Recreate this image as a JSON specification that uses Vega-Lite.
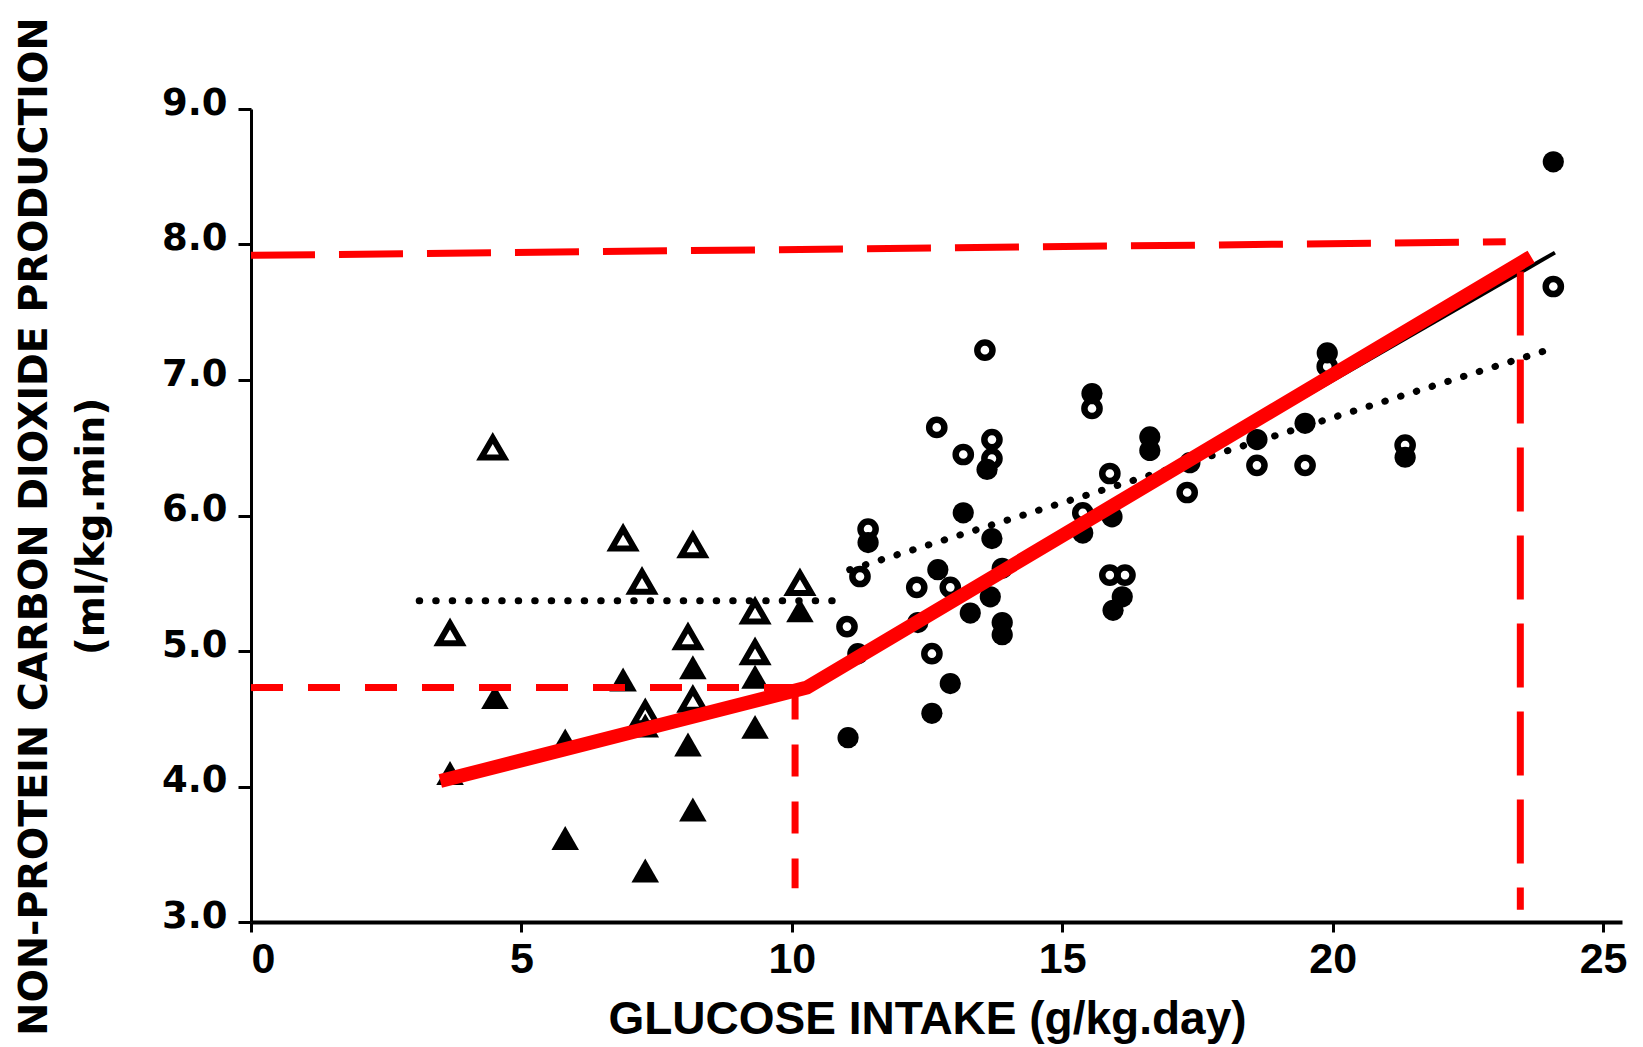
{
  "$schema": "https://vega.github.io/schema/vega-lite/v6.json",
  "autosize": "none",
  "width": 1371,
  "height": 813,
  "padding": {"left": 251, "top": 109, "right": 21, "bottom": 125},
  "background": "white",
  "config": {"view": {"stroke": null}},
  "datasets": {
    "pts": [
      {"x": 3.68, "y": 5.13, "g": "tri_open"},
      {"x": 4.47, "y": 6.50, "g": "tri_open"},
      {"x": 6.88, "y": 5.83, "g": "tri_open"},
      {"x": 7.23, "y": 5.51, "g": "tri_open"},
      {"x": 8.17, "y": 5.78, "g": "tri_open"},
      {"x": 8.08, "y": 5.10, "g": "tri_open"},
      {"x": 8.17, "y": 4.64, "g": "tri_open"},
      {"x": 7.29, "y": 4.54, "g": "tri_open"},
      {"x": 9.32, "y": 5.29, "g": "tri_open"},
      {"x": 9.32, "y": 4.99, "g": "tri_open"},
      {"x": 10.15, "y": 5.50, "g": "tri_open"},
      {"x": 3.68, "y": 4.10, "g": "tri_filled"},
      {"x": 4.51, "y": 4.66, "g": "tri_filled"},
      {"x": 5.81, "y": 4.34, "g": "tri_filled"},
      {"x": 5.81, "y": 3.62, "g": "tri_filled"},
      {"x": 6.88, "y": 4.79, "g": "tri_filled"},
      {"x": 7.29, "y": 3.38, "g": "tri_filled"},
      {"x": 7.29, "y": 4.45, "g": "tri_filled"},
      {"x": 8.17, "y": 4.88, "g": "tri_filled"},
      {"x": 8.08, "y": 4.31, "g": "tri_filled"},
      {"x": 8.17, "y": 3.83, "g": "tri_filled"},
      {"x": 9.32, "y": 4.81, "g": "tri_filled"},
      {"x": 9.32, "y": 4.44, "g": "tri_filled"},
      {"x": 10.15, "y": 5.30, "g": "tri_filled"},
      {"x": 11.02, "y": 5.18, "g": "circ_open"},
      {"x": 11.26, "y": 5.55, "g": "circ_open"},
      {"x": 11.41, "y": 5.90, "g": "circ_open"},
      {"x": 12.31, "y": 5.47, "g": "circ_open"},
      {"x": 12.59, "y": 4.98, "g": "circ_open"},
      {"x": 12.68, "y": 6.65, "g": "circ_open"},
      {"x": 12.93, "y": 5.47, "g": "circ_open"},
      {"x": 13.17, "y": 6.45, "g": "circ_open"},
      {"x": 13.57, "y": 7.22, "g": "circ_open"},
      {"x": 13.70, "y": 6.56, "g": "circ_open"},
      {"x": 13.70, "y": 6.42, "g": "circ_open"},
      {"x": 15.38, "y": 6.02, "g": "circ_open"},
      {"x": 15.55, "y": 6.79, "g": "circ_open"},
      {"x": 15.88, "y": 6.31, "g": "circ_open"},
      {"x": 15.88, "y": 5.56, "g": "circ_open"},
      {"x": 16.16, "y": 5.56, "g": "circ_open"},
      {"x": 17.31, "y": 6.17, "g": "circ_open"},
      {"x": 18.60, "y": 6.37, "g": "circ_open"},
      {"x": 19.49, "y": 6.37, "g": "circ_open"},
      {"x": 19.90, "y": 7.10, "g": "circ_open"},
      {"x": 21.34, "y": 6.52, "g": "circ_open"},
      {"x": 24.08, "y": 7.69, "g": "circ_open"},
      {"x": 11.04, "y": 4.36, "g": "circ_filled"},
      {"x": 11.22, "y": 4.98, "g": "circ_filled"},
      {"x": 11.41, "y": 5.80, "g": "circ_filled"},
      {"x": 12.33, "y": 5.21, "g": "circ_filled"},
      {"x": 12.59, "y": 4.54, "g": "circ_filled"},
      {"x": 12.70, "y": 5.60, "g": "circ_filled"},
      {"x": 12.93, "y": 4.76, "g": "circ_filled"},
      {"x": 13.17, "y": 6.02, "g": "circ_filled"},
      {"x": 13.30, "y": 5.28, "g": "circ_filled"},
      {"x": 13.61, "y": 6.34, "g": "circ_filled"},
      {"x": 13.67, "y": 5.40, "g": "circ_filled"},
      {"x": 13.70, "y": 5.83, "g": "circ_filled"},
      {"x": 13.89, "y": 5.61, "g": "circ_filled"},
      {"x": 13.89, "y": 5.21, "g": "circ_filled"},
      {"x": 13.89, "y": 5.12, "g": "circ_filled"},
      {"x": 15.38, "y": 5.87, "g": "circ_filled"},
      {"x": 15.55, "y": 6.90, "g": "circ_filled"},
      {"x": 15.92, "y": 5.99, "g": "circ_filled"},
      {"x": 15.94, "y": 5.30, "g": "circ_filled"},
      {"x": 16.11, "y": 5.40, "g": "circ_filled"},
      {"x": 16.62, "y": 6.58, "g": "circ_filled"},
      {"x": 16.62, "y": 6.48, "g": "circ_filled"},
      {"x": 17.36, "y": 6.39, "g": "circ_filled"},
      {"x": 18.60, "y": 6.56, "g": "circ_filled"},
      {"x": 19.49, "y": 6.68, "g": "circ_filled"},
      {"x": 19.90, "y": 7.20, "g": "circ_filled"},
      {"x": 21.34, "y": 6.43, "g": "circ_filled"},
      {"x": 24.08, "y": 8.61, "g": "circ_filled"}
    ],
    "lines": [
      {"x": 3.50, "y": 4.04, "id": "red"},
      {"x": 10.28, "y": 4.73, "id": "red"},
      {"x": 23.67, "y": 7.91, "id": "red"},
      {"x": 3.11, "y": 5.37, "id": "dotTri"},
      {"x": 10.76, "y": 5.37, "id": "dotTri"},
      {"x": 11.07, "y": 5.60, "id": "dotCirc"},
      {"x": 24.04, "y": 7.23, "id": "dotCirc"},
      {"x": 14.0, "y": 5.62, "id": "blackReg"},
      {"x": 24.11, "y": 7.94, "id": "blackReg"},
      {"x": 0, "y": 7.92, "id": "dashH1"},
      {"x": 23.2, "y": 8.02, "id": "dashH1"},
      {"x": 23.47, "y": 7.80, "id": "dashV1"},
      {"x": 23.47, "y": 3.09, "id": "dashV1"},
      {"x": 0, "y": 4.73, "id": "dashH2"},
      {"x": 10.19, "y": 4.73, "id": "dashH2"},
      {"x": 10.06, "y": 4.73, "id": "dashV2"},
      {"x": 10.06, "y": 3.25, "id": "dashV2"}
    ]
  },
  "encoding": {
    "x": {
      "field": "x", "type": "quantitative",
      "scale": {"domain": [0, 25.35], "nice": false, "zero": false},
      "axis": {
        "title": "GLUCOSE INTAKE (g/kg.day)",
        "values": [0, 5, 10, 15, 20, 25],
        "format": "d",
        "grid": false,
        "domainColor": "black", "domainWidth": 4,
        "tickColor": "black", "tickWidth": 3, "tickSize": 10,
        "labelFont": "Liberation Sans", "labelFontWeight": "bold", "labelFontSize": 43, "labelColor": "black",
        "labelPadding": 6,
        "titleFont": "Liberation Sans", "titleFontWeight": "bold", "titleFontSize": 46, "titleColor": "black",
        "titlePadding": 16,
        "titleX": 676
      }
    },
    "y": {
      "field": "y", "type": "quantitative",
      "scale": {"domain": [3, 9], "nice": false, "zero": false},
      "axis": {
        "title": ["NON-PROTEIN CARBON DIOXIDE PRODUCTION", "\u2003\u2003(ml/kg.min)"],
        "values": [3, 4, 5, 6, 7, 8, 9],
        "format": ".1f",
        "grid": false,
        "domainColor": "black", "domainWidth": 3,
        "tickColor": "black", "tickWidth": 3, "tickSize": 13,
        "labelFont": "DejaVu Sans", "labelFontWeight": "bold", "labelFontSize": 37, "labelColor": "black",
        "labelPadding": 11, "labelOffset": -6,
        "titleFont": "DejaVu Sans", "titleFontWeight": "bold", "titleFontSize": 39.5, "titleColor": "black",
        "titleAngle": -90, "titleBaseline": "top", "titleAlign": "center",
        "titleX": -236, "titleY": 417, "titleLineHeight": 57
      }
    }
  },
  "layer": [
    {
      "data": {"name": "lines"},
      "transform": [{"filter": "datum.id === 'blackReg'"}],
      "mark": {"type": "line", "color": "black", "strokeWidth": 4},
      "encoding": {}
    },
    {
      "data": {"name": "lines"},
      "transform": [{"filter": "datum.id === 'dotTri' || datum.id === 'dotCirc'"}],
      "mark": {"type": "line", "color": "black", "strokeWidth": 7, "strokeCap": "round", "strokeDash": [0.5, 16]},
      "encoding": {"detail": {"field": "id"}}
    },
    {
      "data": {"name": "pts"},
      "transform": [{"filter": "datum.g === 'tri_filled'"}],
      "mark": {"type": "point", "shape": "triangle-up", "filled": true, "color": "black", "opacity": 1, "size": 760}
    },
    {
      "data": {"name": "pts"},
      "transform": [{"filter": "datum.g === 'tri_open'"}],
      "mark": {"type": "point", "shape": "triangle-up", "filled": false, "color": "black", "opacity": 1, "size": 520, "strokeWidth": 6}
    },
    {
      "data": {"name": "pts"},
      "transform": [{"filter": "datum.g === 'circ_filled'"}],
      "mark": {"type": "point", "shape": "circle", "filled": true, "color": "black", "opacity": 1, "size": 450}
    },
    {
      "data": {"name": "pts"},
      "transform": [{"filter": "datum.g === 'circ_open'"}],
      "mark": {"type": "point", "shape": "circle", "filled": false, "color": "black", "opacity": 1, "size": 230, "strokeWidth": 6.5}
    },
    {
      "data": {"name": "lines"},
      "transform": [{"filter": "datum.id === 'dashH1' || datum.id === 'dashV1'"}],
      "mark": {"type": "line", "color": "#ff0000", "strokeWidth": 7, "strokeDash": [64, 24]},
      "encoding": {"detail": {"field": "id"}}
    },
    {
      "data": {"name": "lines"},
      "transform": [{"filter": "datum.id === 'dashH2' || datum.id === 'dashV2'"}],
      "mark": {"type": "line", "color": "#ff0000", "strokeWidth": 7, "strokeDash": [32, 25]},
      "encoding": {"detail": {"field": "id"}}
    },
    {
      "data": {"name": "lines"},
      "transform": [{"filter": "datum.id === 'red'"}],
      "mark": {"type": "line", "color": "#ff0000", "strokeWidth": 14, "strokeJoin": "miter"},
      "encoding": {}
    }
  ]
}
